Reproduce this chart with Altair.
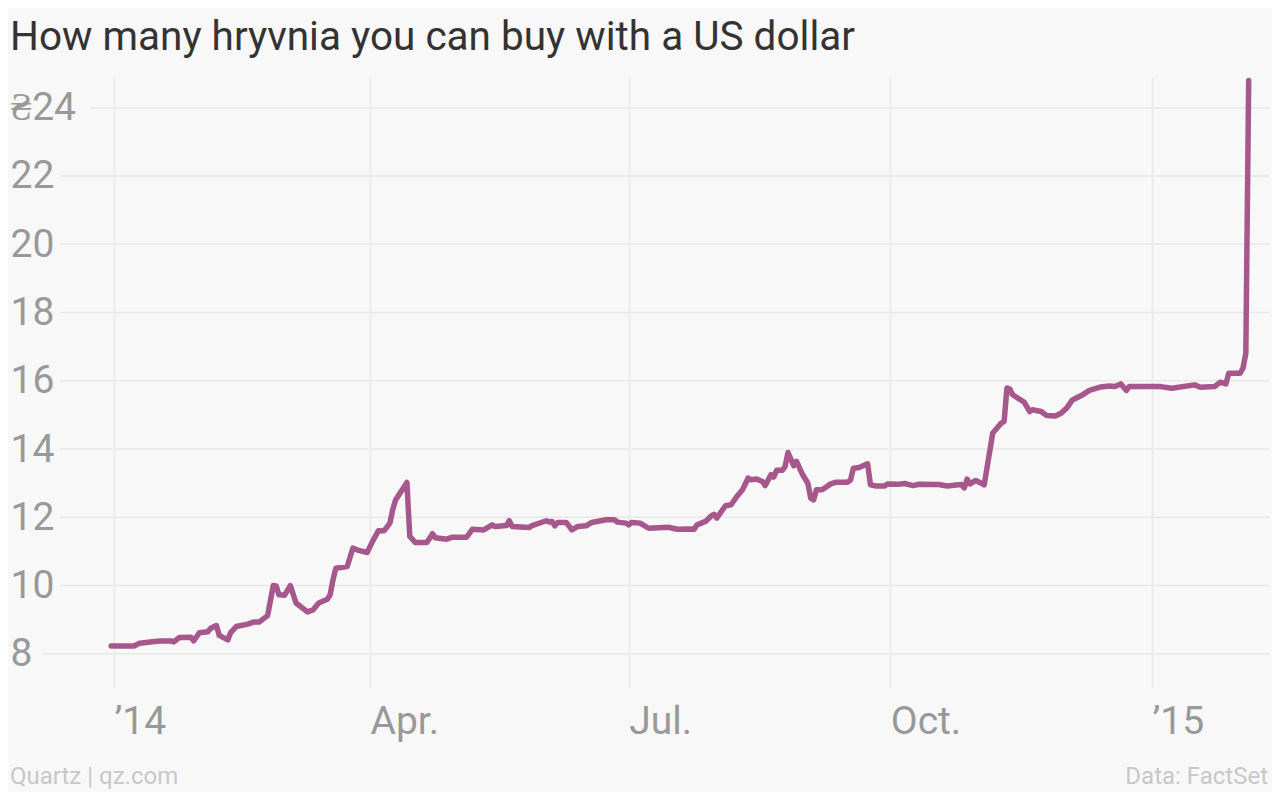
import altair as alt
import pandas as pd

TITLE = "How many hryvnia you can buy with a US dollar"
FOOT_LEFT = "Quartz | qz.com"
FOOT_RIGHT = "Data: FactSet"

dates = [
    "2013-12-31", "2014-01-08", "2014-01-10", "2014-01-17", "2014-01-21", "2014-01-22",
    "2014-01-24", "2014-01-28", "2014-01-29", "2014-01-31", "2014-02-03", "2014-02-04",
    "2014-02-06", "2014-02-07", "2014-02-10", "2014-02-11", "2014-02-13", "2014-02-17",
    "2014-02-19", "2014-02-21", "2014-02-24", "2014-02-26", "2014-02-27", "2014-02-28",
    "2014-03-02", "2014-03-04", "2014-03-06", "2014-03-10", "2014-03-12", "2014-03-14",
    "2014-03-17", "2014-03-18", "2014-03-19", "2014-03-20", "2014-03-24", "2014-03-26",
    "2014-03-28", "2014-03-31", "2014-04-02", "2014-04-04", "2014-04-06", "2014-04-08",
    "2014-04-09", "2014-04-10", "2014-04-14", "2014-04-15", "2014-04-17", "2014-04-21",
    "2014-04-23", "2014-04-24", "2014-04-28", "2014-04-30", "2014-05-05", "2014-05-07",
    "2014-05-11", "2014-05-14", "2014-05-15", "2014-05-19", "2014-05-20", "2014-05-21",
    "2014-05-27", "2014-05-28", "2014-06-02", "2014-06-03", "2014-06-04", "2014-06-05",
    "2014-06-06", "2014-06-09", "2014-06-11", "2014-06-13", "2014-06-16", "2014-06-18",
    "2014-06-23", "2014-06-26", "2014-06-27", "2014-06-30", "2014-07-01", "2014-07-02",
    "2014-07-05", "2014-07-08", "2014-07-15", "2014-07-18", "2014-07-22", "2014-07-24",
    "2014-07-25", "2014-07-28", "2014-07-30", "2014-07-31", "2014-08-01", "2014-08-04",
    "2014-08-06", "2014-08-08", "2014-08-10", "2014-08-12", "2014-08-13", "2014-08-15",
    "2014-08-17", "2014-08-18", "2014-08-20", "2014-08-21", "2014-08-22", "2014-08-24",
    "2014-08-25", "2014-08-26", "2014-08-28", "2014-08-29", "2014-08-31", "2014-09-02",
    "2014-09-03", "2014-09-04", "2014-09-05", "2014-09-07", "2014-09-10", "2014-09-12",
    "2014-09-16", "2014-09-17", "2014-09-18", "2014-09-20", "2014-09-23", "2014-09-24",
    "2014-09-26", "2014-09-29", "2014-09-30", "2014-10-04", "2014-10-06", "2014-10-09",
    "2014-10-11", "2014-10-18", "2014-10-21", "2014-10-24", "2014-10-26", "2014-10-27",
    "2014-10-28", "2014-10-29", "2014-10-31", "2014-11-02", "2014-11-03", "2014-11-06",
    "2014-11-09", "2014-11-10", "2014-11-11", "2014-11-12", "2014-11-13", "2014-11-17",
    "2014-11-19", "2014-11-20", "2014-11-23", "2014-11-25", "2014-11-28", "2014-11-30",
    "2014-12-02", "2014-12-04", "2014-12-07", "2014-12-10", "2014-12-14", "2014-12-17",
    "2014-12-19", "2014-12-21", "2014-12-23", "2014-12-24", "2015-01-04", "2015-01-08",
    "2015-01-16", "2015-01-18", "2015-01-23", "2015-01-25", "2015-01-27", "2015-01-28",
    "2015-02-01", "2015-02-02", "2015-02-03", "2015-02-04",
]

rates = [
    8.23, 8.23, 8.31, 8.38, 8.38, 8.35,
    8.48, 8.49, 8.38, 8.62, 8.65, 8.75,
    8.83, 8.54, 8.41, 8.62, 8.80, 8.87,
    8.93, 8.93, 9.12, 10.00, 9.99, 9.73,
    9.72, 10.00, 9.49, 9.23, 9.29, 9.49,
    9.60, 9.73, 10.17, 10.51, 10.56, 11.10,
    11.03, 10.97, 11.31, 11.61, 11.61, 11.83,
    12.22, 12.51, 13.02, 11.44, 11.26, 11.26,
    11.52, 11.40, 11.36, 11.42, 11.42, 11.65,
    11.63, 11.78, 11.73, 11.76, 11.90, 11.73,
    11.70, 11.76, 11.90, 11.86, 11.88, 11.75,
    11.85, 11.85, 11.63, 11.73, 11.75, 11.85,
    11.93, 11.93, 11.86, 11.83, 11.78, 11.85,
    11.83, 11.68, 11.71, 11.65, 11.66, 11.65,
    11.78, 11.88, 12.04, 12.09, 11.98, 12.34,
    12.37, 12.61, 12.81, 13.15, 13.10, 13.12,
    13.05, 12.93, 13.25, 13.18, 13.38, 13.38,
    13.49, 13.90, 13.51, 13.64, 13.27, 13.00,
    12.56, 12.51, 12.81, 12.81, 12.98, 13.03,
    13.03, 13.10, 13.44, 13.46, 13.57, 12.95,
    12.92, 12.92, 12.98, 12.97, 12.99, 12.93,
    12.97, 12.96, 12.92, 12.95, 12.96, 12.86,
    13.12, 12.98, 13.08, 13.00, 12.95, 14.47,
    14.76, 14.81, 15.79, 15.76, 15.59, 15.38,
    15.10, 15.15, 15.10, 14.98, 14.97, 15.05,
    15.20, 15.44, 15.56, 15.72, 15.82, 15.85,
    15.83, 15.91, 15.72, 15.83, 15.83, 15.78,
    15.88, 15.81, 15.83, 15.96, 15.91, 16.22,
    16.22, 16.37, 16.81, 24.80,
]

y_ticks = [8, 10, 12, 14, 16, 18, 20, 22, 24]
x_ticks = [
    alt.DateTime(year=2014, month=1, date=1),
    alt.DateTime(year=2014, month=4, date=1),
    alt.DateTime(year=2014, month=7, date=1),
    alt.DateTime(year=2014, month=10, date=1),
    alt.DateTime(year=2015, month=1, date=1),
]

FONT = "Roboto"
W, H = 1210, 611
LINE_COLOR = "#a6578b"
GRID_COLOR = "#e8e8e8"
LABEL_COLOR = "#999999"

df = pd.DataFrame({"date": dates, "rate": rates})
grid_df = pd.DataFrame({"v": y_ticks})

x_scale = alt.Scale(domain=[alt.DateTime(year=2013, month=12, date=13),
                            alt.DateTime(year=2015, month=2, date=11, hours=12)])
y_scale = alt.Scale(domain=[7, 24.9], nice=False, zero=False)

x_axis = alt.Axis(
    values=x_ticks,
    labelExpr="month(datum.value) == 0 ? '\u2019' + timeFormat(datum.value, '%y') : timeFormat(datum.value, '%b') + '.'",
    title=None, grid=True, gridColor=GRID_COLOR, gridWidth=1.5, domain=False, ticks=False, tickSize=0,
    labelAlign="left", labelBaseline="top", labelPadding=14, labelFontSize=39,
    labelColor=LABEL_COLOR, labelFont=FONT, labelFlush=False, labelOverlap=False,
)
y_axis = alt.Axis(
    values=y_ticks, labelExpr="datum.value == 24 ? '\u20b424' : datum.label",
    title=None, grid=False, domain=False, ticks=False, tickSize=0,
    labelAlign="left", labelBaseline="middle", labelPadding=50, labelFontSize=39,
    labelColor=LABEL_COLOR, labelFont=FONT, labelOverlap=False, labelFlush=False,
)

def grid_layer(test, x0):
    return alt.Chart(grid_df).transform_filter(test).mark_rule(
        color=GRID_COLOR, strokeWidth=1.5
    ).encode(
        y=alt.Y("v:Q", scale=y_scale, axis=y_axis),
        x=alt.value(x0), x2=alt.value(W),
    )

grid_mid = grid_layer("datum.v > 8 && datum.v < 24", 0)
grid_lo = grid_layer("datum.v == 8", -17)
grid_hi = grid_layer("datum.v == 24", 30)

line = alt.Chart(df).mark_line(
    color=LINE_COLOR, strokeWidth=5.5, strokeJoin="round", strokeCap="round"
).encode(
    x=alt.X("date:T", scale=x_scale, axis=x_axis),
    y=alt.Y("rate:Q", scale=y_scale, axis=y_axis),
)

def text_layer(txt, x, y, align, size, color):
    return alt.Chart(pd.DataFrame({"t": [txt]})).mark_text(
        align=align, baseline="alphabetic", fontSize=size, color=color, font=FONT
    ).encode(x=alt.value(x), y=alt.value(y), text="t:N")

title = text_layer(TITLE, -50, -27, "left", 40.5, "#333333")
foot_l = text_layer(FOOT_LEFT, -50, 707, "left", 24, "#c8c8c8")
foot_r = text_layer(FOOT_RIGHT, 1208, 707, "right", 24, "#c8c8c8")

chart = alt.layer(grid_mid, grid_lo, grid_hi, line, title, foot_l, foot_r).properties(
    width=W, height=H,
    autosize=alt.AutoSizeParams(type="none"),
    padding={"left": 52, "top": 69, "right": 2, "bottom": 104},
).configure(background="#f8f8f8").configure_view(stroke=None)

chart.save("out.html", embed_options={"renderer": "svg", "actions": False})
